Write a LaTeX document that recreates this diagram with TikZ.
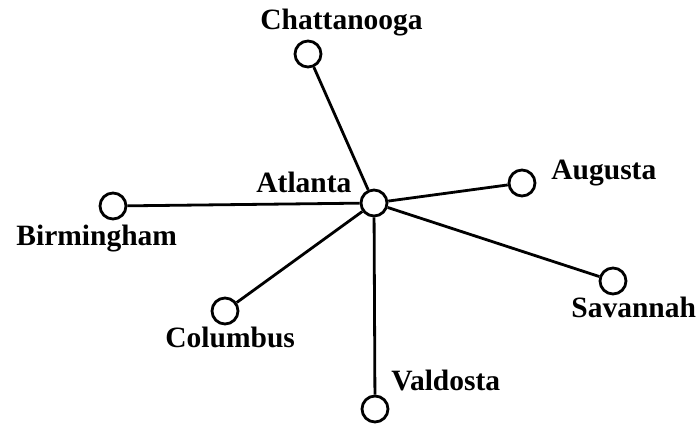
\documentclass[tikz,border=0pt]{standalone}
\usepackage{fontspec}
\setmainfont{Liberation Serif}
\usetikzlibrary{positioning}
\tikzset{every picture/.style={line width=2.8pt}}

\begin{document}
\begin{tikzpicture}[x=1pt, y=-1pt,
        city/.style={circle, draw, minimum size=26pt, inner sep=0pt},
        lbl/.style={inner sep=0pt, anchor=base west, font=\fontsize{29.5}{35}\selectfont\bfseries}]
        \useasboundingbox[fill=white] (0,0) rectangle (699,428);
        % cities
        \node[city] (atl)  at (374, 203) {};
        \node[city] (chat) at (308, 54)  {};
        \node[city] (aug)  at (522, 183) {};
        \node[city] (bir)  at (113, 206) {};
        \node[city] (sav)  at (613, 281) {};
        \node[city] (col)  at (225, 311) {};
        \node[city] (val)  at (375, 409) {};
        % names
        \node[lbl] (atllbl)  at (255, 192) {Atlanta};
        \node[lbl] (chatlbl) at (259, 30)  {Chattanooga};
        \node[lbl] (auglbl)  at (550, 179) {Augusta};
        \node[lbl] (birlbl)  at (15, 245)  {Birmingham};
        \node[lbl] (savlbl)  at (570, 317) {Savannah};
        \node[lbl] (collbl)  at (164, 347) {Columbus};
        \node[lbl] (vallbl)  at (390, 390) {Valdosta};
        % roads out of Atlanta
        \draw (atl) -- (chat);
        \draw (atl) -- (aug);
        \draw (atl) -- (bir);
        \draw (atl) -- (sav);
        \draw (atl) -- (col);
        \draw (atl) -- (val);
\end{tikzpicture}
\end{document}
